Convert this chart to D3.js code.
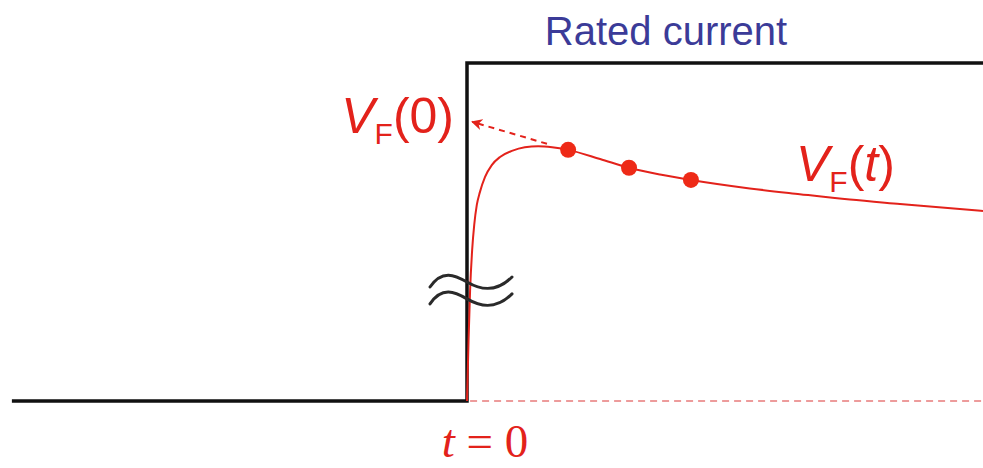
<!DOCTYPE html>
<html>
<head>
<meta charset="utf-8">
<script src="https://cdn.jsdelivr.net/npm/d3@7"></script>
<style>
  html, body { margin: 0; padding: 0; background: #fff; }
  svg { display: block; }
</style>
</head>
<body>
<svg id="chart" width="983" height="468"></svg>
<script>
// Drive current: step from zero to the rated level at t = 0
const currentTime  = [-88.2, 0, 0, 100];
const currentLevel = [0, 0, 100, 100];

// Forward voltage response V_F(t) (relative units, broken scale below the peak)
const vfTime  = [0, 0.3, 0.6, 1.0, 1.4, 1.9, 2.5, 3.5, 4.8, 6.4, 8.7, 11.2, 13.8, 16.5, 19.6, 25.8, 31.4, 37.4, 43.4, 54.8, 64.5, 74.2, 83.9, 100];
const vfValue = [0, 18.0, 32.8, 44.7, 52.1, 58.0, 61.8, 66.3, 69.8, 72.2, 74.0, 75.1, 75.4, 75.1, 74.3, 71.6, 69.0, 67.0, 65.4, 62.9, 61.2, 59.6, 58.3, 56.2];

// Sampled measurement points on V_F(t)
const sampleTime  = [19.6, 31.4, 43.4];
const sampleValue = [74.3, 69.0, 65.4];

// Back-extrapolation of the samples toward V_F(0)
const extrapTime  = [15.5, 1.0];
const extrapValue = [76.1, 82.6];

// Scale break position on the voltage axis
const breakLevel = [35.5, 30.5];

const svg = d3.select("#chart");
const x = d3.scaleLinear().domain([0, 100]).range([467, 983]);
const y = d3.scaleLinear().domain([0, 100]).range([401, 63]);

const RED = "#e3221b";

// Arrowhead marker
svg.append("defs").append("marker")
  .attr("id", "arrow")
  .attr("viewBox", "0 0 10 10")
  .attr("refX", 9).attr("refY", 5)
  .attr("markerWidth", 11).attr("markerHeight", 11)
  .attr("markerUnits", "userSpaceOnUse")
  .attr("orient", "auto")
  .append("path")
  .attr("d", "M0,0 L10,5 L0,10 L3,5 Z")
  .attr("fill", RED);

// Zero-voltage reference after the step
svg.append("line")
  .attr("x1", x(0.6)).attr("x2", x(100))
  .attr("y1", y(0)).attr("y2", y(0))
  .attr("stroke", "#e77b7b")
  .attr("stroke-width", 1.5)
  .attr("stroke-dasharray", "7,5");

// Current step
const stepLine = d3.line().x(d => x(d[0])).y(d => y(d[1]));
svg.append("path")
  .datum(d3.zip(currentTime, currentLevel))
  .attr("d", stepLine)
  .attr("fill", "none")
  .attr("stroke", "#111")
  .attr("stroke-width", 3.5)
  .attr("stroke-linejoin", "miter");

// V_F(t) curve
const vfLine = d3.line()
  .x(d => x(d[0])).y(d => y(d[1]))
  .curve(d3.curveMonotoneX);
svg.append("path")
  .datum(d3.zip(vfTime, vfValue))
  .attr("d", vfLine)
  .attr("fill", "none")
  .attr("stroke", RED)
  .attr("stroke-width", 2);

// Extrapolation arrow
svg.append("path")
  .datum(d3.zip(extrapTime, extrapValue))
  .attr("d", d3.line().x(d => x(d[0])).y(d => y(d[1])))
  .attr("fill", "none")
  .attr("stroke", RED)
  .attr("stroke-width", 2)
  .attr("stroke-dasharray", "6,5")
  .attr("marker-end", "url(#arrow)");

// Sample points
svg.selectAll("circle.sample")
  .data(d3.zip(sampleTime, sampleValue))
  .join("circle")
  .attr("class", "sample")
  .attr("cx", d => x(d[0]))
  .attr("cy", d => y(d[1]))
  .attr("r", 8)
  .attr("fill", "#ee2a17");

// Axis break marks
const bx = x(0);
breakLevel.forEach(v => {
  const by = y(v);
  svg.append("path")
    .attr("d", `M${bx - 37},${by + 6} C${bx - 25},${by - 12} ${bx - 12},${by - 6} ${bx},${by + 1}` +
               ` S${bx + 28},${by + 13} ${bx + 45},${by - 4}`)
    .attr("fill", "none")
    .attr("stroke", "#2a2a2a")
    .attr("stroke-width", 3)
    .attr("stroke-linecap", "round");
});

// Labels
svg.append("text")
  .attr("x", 666).attr("y", 45)
  .attr("text-anchor", "middle")
  .attr("font-family", "Liberation Sans, Arial, sans-serif")
  .attr("font-size", 40)
  .attr("fill", "#3b3b98")
  .text("Rated current");

function vfLabel(xPos, yPos, anchor, arg, argItalic) {
  const t = svg.append("text")
    .attr("x", xPos).attr("y", yPos)
    .attr("text-anchor", anchor)
    .attr("font-family", "Liberation Sans, Arial, sans-serif")
    .attr("font-size", 50)
    .attr("fill", RED);
  t.append("tspan").attr("font-style", "italic").text("V");
  t.append("tspan").attr("font-size", 30).attr("dy", 11).text("F");
  t.append("tspan").attr("dy", -11).text("(");
  t.append("tspan").attr("font-style", argItalic ? "italic" : "normal").text(arg);
  t.append("tspan").text(")");
}
vfLabel(454, 133, "end", "0", false);
vfLabel(796, 181, "start", "t", true);

const t0 = svg.append("text")
  .attr("x", 485).attr("y", 457)
  .attr("text-anchor", "middle")
  .attr("font-family", "Liberation Serif, Times New Roman, serif")
  .attr("font-size", 47)
  .attr("fill", RED);
t0.append("tspan").attr("font-style", "italic").text("t");
t0.append("tspan").text(" = 0");
</script>
</body>
</html>
